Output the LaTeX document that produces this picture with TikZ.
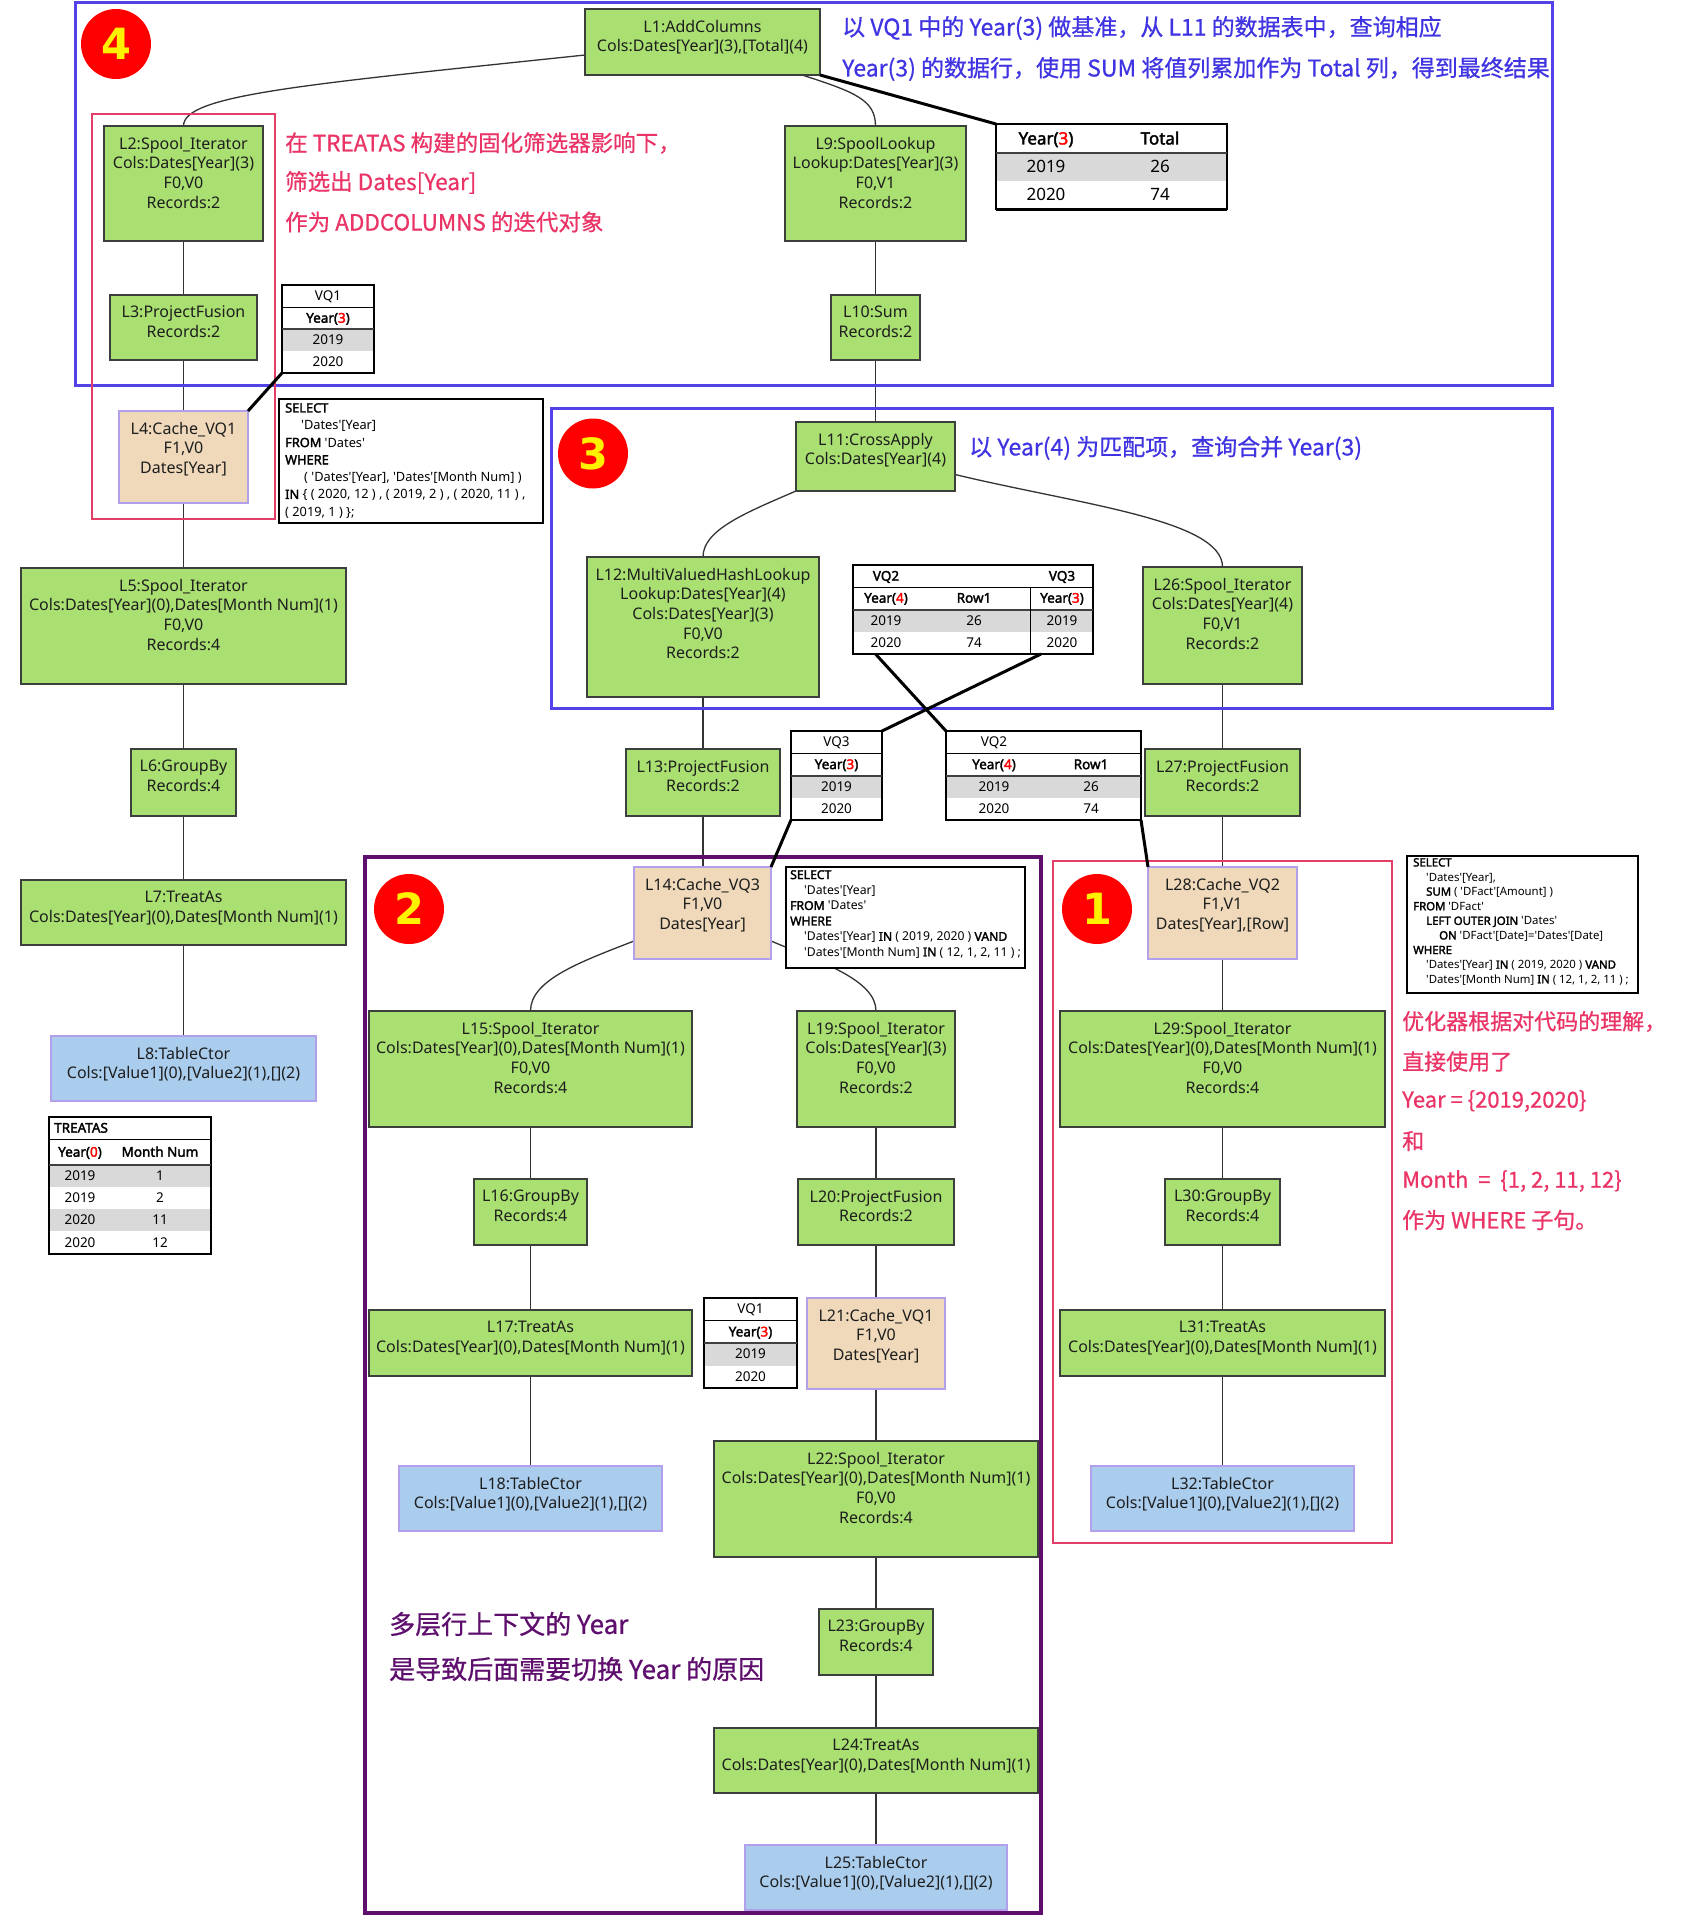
\documentclass[tikz,border=0pt]{standalone}
\usepackage{fontspec}
\newfontfamily\nf{Noto Sans}[AutoFakeBold=2.2]
\newfontfamily\cjk{Noto Sans CJK SC}[FakeBold=0.7]
\newfontfamily\dvs{DejaVu Sans}
\definecolor{gfill}{RGB}{169,224,113}
\definecolor{tfill}{RGB}{239,217,186}
\definecolor{bfill}{RGB}{170,205,238}
\definecolor{lav}{RGB}{178,160,236}
\definecolor{gline}{RGB}{60,64,60}
\definecolor{bframe}{RGB}{82,66,232}
\definecolor{btext}{RGB}{64,52,226}
\definecolor{rframe}{RGB}{226,62,104}
\definecolor{rtext}{RGB}{234,52,102}
\definecolor{pframe}{RGB}{94,14,108}
\definecolor{rowgray}{RGB}{217,217,217}
\definecolor{edgec}{RGB}{51,51,51}
\definecolor{txtc}{RGB}{30,30,30}
\pgfdeclarelayer{bottom}
\pgfdeclarelayer{edges}
\pgfdeclarelayer{top}
\pgfsetlayers{bottom,edges,main,top}
\tikzset{
  gbox/.style={draw=gline, line width=1.4pt, fill=gfill, inner sep=0pt, outer sep=0pt},
  tbox/.style={draw=lav, line width=1.8pt, fill=tfill, inner sep=0pt, outer sep=0pt},
  cbox/.style={draw=lav, line width=1.8pt, fill=bfill, inner sep=0pt, outer sep=0pt},
  lbl/.style={anchor=north, align=center, inner sep=0pt, text=txtc, font=\nf\fontsize{16}{19.6}\selectfont},
  link/.style={draw=edgec, line width=1.3pt},
  ptr/.style={draw=black, line width=3pt},
  frameB/.style={draw=bframe, line width=3pt},
  frameR/.style={draw=rframe, line width=2.6pt},
  frameP/.style={draw=pframe, line width=4.5pt},
  tabframe/.style={draw=black, line width=1.2pt, fill=white, inner sep=0pt, outer sep=0pt},
  tthin/.style={draw=black, line width=1pt},
  tsep/.style={draw=black!75, line width=2pt},
  tbot/.style={draw=black, line width=2.6pt},
  tcell/.style={inner sep=0pt, text=black, text height=9.7pt, text depth=0.3pt, font=\nf\fontsize{13.5}{16}\selectfont},
  tcellb/.style={tcell, font=\nf\bfseries\fontsize{13.5}{16}\selectfont},
  rcell/.style={inner sep=0pt, text=black, text height=12.2pt, text depth=0.3pt, font=\nf\fontsize{17}{20}\selectfont},
  rcellb/.style={rcell, font=\nf\bfseries\fontsize{17}{20}\selectfont},
  sqlbox/.style={draw=black, line width=1.1pt, fill=white, inner sep=0pt, outer sep=0pt, anchor=north west},
  sqltext/.style={anchor=north west, align=left, inner sep=0pt, text=black},
  ann/.style={anchor=west, inner sep=0pt},
  numc/.style={circle, fill=red, inner sep=0pt, minimum size=70pt, text=yellow, font=\dvs\bfseries\fontsize{43}{43}\selectfont},
}
% box with top-aligned label: name, style, x1, y1, x2, y2, text
\newcommand\opbox[7]{%
  \pgfmathsetmacro\ow{#5-#3}\pgfmathsetmacro\oh{#6-#4}%
  \pgfmathsetmacro\ox{(#3+#5)/2}\pgfmathsetmacro\oy{(#4+#6)/2}%
  \node[#2, minimum width=\ow pt, minimum height=\oh pt] (#1) at (\ox,\oy) {};%
  \node[lbl] (#1t) at ([yshift=-11pt]#1.north) {#7};%
}
% one-column year table: name, x1, y1, x2, y2, title, digit
\newcommand\yeartab[7]{%
  \pgfmathsetmacro\qw{#4-#2}\pgfmathsetmacro\qh{#5-#3}%
  \pgfmathsetmacro\qr{(#5-#3)/4}\pgfmathsetmacro\qx{(#2+#4)/2}\pgfmathsetmacro\qy{(#3+#5)/2}%
  \pgfmathsetmacro\qa{#3+\qr}\pgfmathsetmacro\qb{#3+2*\qr}\pgfmathsetmacro\qc{#3+3*\qr}%
  \node[tabframe, minimum width=\qw pt, minimum height=\qh pt] (#1) at (\qx,\qy) {};%
  \fill[rowgray] ({#2+0.6},\qb) rectangle ({#4-0.6},\qc);%
  \draw[tthin] (#2,\qa) -- (#4,\qa);%
  \draw[tsep] (#2,\qb) -- (#4,\qb);%
  \draw[tbot] (#1.south west) -- (#1.south east);%
  \node[tcell] (#1a) at (\qx,{#3+0.5*\qr}) {#6};%
  \node[tcellb] (#1b) at (\qx,{#3+1.5*\qr}) {Year(\textcolor{red}{#7})};%
  \node[tcell] (#1c) at (\qx,{#3+2.5*\qr}) {2019};%
  \node[tcell] (#1d) at (\qx,{#3+3.5*\qr}) {2020};%
}
\begin{document}
\begin{tikzpicture}[x=1pt,y=-1pt]
\begin{pgfonlayer}{bottom}
\fill[white] (0,0) rectangle (1690,1920);
\end{pgfonlayer}
\useasboundingbox (0,0) rectangle (1690,1920);

% ---------------- operator boxes ----------------
\opbox{L1}{gbox}{585}{9}{820}{75}{L1:AddColumns\\Cols:Dates[Year](3),[Total](4)}
\opbox{L2}{gbox}{104}{126}{263}{241}{L2:Spool\_Iterator\\Cols:Dates[Year](3)\\F0,V0\\Records:2}
\opbox{L3}{gbox}{110}{295}{257}{360}{L3:ProjectFusion\\Records:2}
\opbox{L4}{tbox}{119}{411}{248}{503}{L4:Cache\_VQ1\\F1,V0\\Dates[Year]}
\opbox{L5}{gbox}{21}{568}{346}{684}{L5:Spool\_Iterator\\Cols:Dates[Year](0),Dates[Month Num](1)\\F0,V0\\Records:4}
\opbox{L6}{gbox}{131}{749}{236}{816}{L6:GroupBy\\Records:4}
\opbox{L7}{gbox}{21}{880}{346}{945}{L7:TreatAs\\Cols:Dates[Year](0),Dates[Month Num](1)}
\opbox{L8}{cbox}{51}{1036}{316}{1101}{L8:TableCtor\\Cols:[Value1](0),[Value2](1),[](2)}
\opbox{L9}{gbox}{785}{126}{966}{241}{L9:SpoolLookup\\Lookup:Dates[Year](3)\\F0,V1\\Records:2}
\opbox{L10}{gbox}{831}{295}{920}{360}{L10:Sum\\Records:2}
\opbox{L11}{gbox}{796}{422}{955}{491}{L11:CrossApply\\Cols:Dates[Year](4)}
\opbox{L12}{gbox}{587}{557}{819}{697}{L12:MultiValuedHashLookup\\Lookup:Dates[Year](4)\\Cols:Dates[Year](3)\\F0,V0\\Records:2}
\opbox{L13}{gbox}{626}{749}{780}{816}{L13:ProjectFusion\\Records:2}
\opbox{L14}{tbox}{634}{867}{771}{959}{L14:Cache\_VQ3\\F1,V0\\Dates[Year]}
\opbox{L15}{gbox}{369}{1011}{692}{1127}{L15:Spool\_Iterator\\Cols:Dates[Year](0),Dates[Month Num](1)\\F0,V0\\Records:4}
\opbox{L16}{gbox}{474}{1179}{587}{1245}{L16:GroupBy\\Records:4}
\opbox{L17}{gbox}{369}{1310}{692}{1376}{L17:TreatAs\\Cols:Dates[Year](0),Dates[Month Num](1)}
\opbox{L18}{cbox}{399}{1466}{662}{1531}{L18:TableCtor\\Cols:[Value1](0),[Value2](1),[](2)}
\opbox{L19}{gbox}{797}{1011}{955}{1127}{L19:Spool\_Iterator\\Cols:Dates[Year](3)\\F0,V0\\Records:2}
\opbox{L20}{gbox}{798}{1179}{954}{1245}{L20:ProjectFusion\\Records:2}
\opbox{L21}{tbox}{807}{1298}{945}{1389}{L21:Cache\_VQ1\\F1,V0\\Dates[Year]}
\opbox{L22}{gbox}{714}{1441}{1038}{1557}{L22:Spool\_Iterator\\Cols:Dates[Year](0),Dates[Month Num](1)\\F0,V0\\Records:4}
\opbox{L23}{gbox}{819}{1609}{933}{1675}{L23:GroupBy\\Records:4}
\opbox{L24}{gbox}{714}{1728}{1038}{1793}{L24:TreatAs\\Cols:Dates[Year](0),Dates[Month Num](1)}
\opbox{L25}{cbox}{745}{1845}{1007}{1910}{L25:TableCtor\\Cols:[Value1](0),[Value2](1),[](2)}
\opbox{L26}{gbox}{1143}{567}{1302}{684}{L26:Spool\_Iterator\\Cols:Dates[Year](4)\\F0,V1\\Records:2}
\opbox{L27}{gbox}{1145}{749}{1300}{816}{L27:ProjectFusion\\Records:2}
\opbox{L28}{tbox}{1148}{867}{1297}{959}{L28:Cache\_VQ2\\F1,V1\\Dates[Year],[Row]}
\opbox{L29}{gbox}{1060}{1011}{1385}{1127}{L29:Spool\_Iterator\\Cols:Dates[Year](0),Dates[Month Num](1)\\F0,V0\\Records:4}
\opbox{L30}{gbox}{1165}{1179}{1280}{1245}{L30:GroupBy\\Records:4}
\opbox{L31}{gbox}{1060}{1310}{1385}{1376}{L31:TreatAs\\Cols:Dates[Year](0),Dates[Month Num](1)}
\opbox{L32}{cbox}{1091}{1466}{1354}{1531}{L32:TableCtor\\Cols:[Value1](0),[Value2](1),[](2)}

% ---------------- tables ----------------
\yeartab{vqA}{282}{285}{374}{373}{VQ1}{3}
\yeartab{vqB}{704}{1298}{797}{1388}{VQ1}{3}
\yeartab{sVQ3}{791}{731}{882}{820}{VQ3}{3}

% result table
\node[tabframe, line width=1.4pt, minimum width=231pt, minimum height=85pt, anchor=north west] (R) at (996,124) {};
\fill[rowgray] (996.8,153) rectangle (1226.2,181);
\draw[tsep, line width=2.6pt] (996,153) -- (1227,153);
\draw[tbot, line width=3pt] (R.south west) -- (R.south east);
\node[rcellb] (Rh1) at (1046,138.5) {Year(\textcolor{red}{3})};
\node[rcellb] (Rh2) at (1160,138.5) {Total};
\node[rcell] (Ra1) at (1046,167) {2019};
\node[rcell] (Ra2) at (1160,167) {26};
\node[rcell] (Rb1) at (1046,195) {2020};
\node[rcell] (Rb2) at (1160,195) {74};

% VQ2 / VQ3 table
\node[tabframe, minimum width=240pt, minimum height=89pt, anchor=north west] (VQ23) at (853,565) {};
\fill[rowgray] (853.6,609.5) rectangle (1092.4,632);
\draw[tthin] (853,587) -- (1093,587);
\draw[tsep] (853,609.5) -- (1093,609.5);
\draw[tthin] (1030,587) -- (1030,654);
\draw[tbot] (VQ23.south west) -- (VQ23.south east);
\node[tcellb] (VQ23a) at (886,576) {VQ2};
\node[tcellb] (VQ23b) at (1062,576) {VQ3};
\node[tcellb] (VQ23c) at (886,598) {Year(\textcolor{red}{4})};
\node[tcellb] (VQ23d) at (974,598) {Row1};
\node[tcellb] (VQ23e) at (1062,598) {Year(\textcolor{red}{3})};
\node[tcell] (VQ23f) at (886,621) {2019};
\node[tcell] (VQ23g) at (974,621) {26};
\node[tcell] (VQ23h) at (1062,621) {2019};
\node[tcell] (VQ23i) at (886,643) {2020};
\node[tcell] (VQ23j) at (974,643) {74};
\node[tcell] (VQ23k) at (1062,643) {2020};

% small VQ2 table
\node[tabframe, minimum width=195pt, minimum height=89pt, anchor=north west] (sVQ2) at (946,731) {};
\fill[rowgray] (946.6,775.5) rectangle (1140.4,797.75);
\draw[tthin] (946,753.25) -- (1141,753.25);
\draw[tsep] (946,775.5) -- (1141,775.5);
\draw[tbot] (sVQ2.south west) -- (sVQ2.south east);
\node[tcell] (sVQ2a) at (994,742) {VQ2};
\node[tcellb] (sVQ2b) at (994,764.4) {Year(\textcolor{red}{4})};
\node[tcellb] (sVQ2c) at (1091,764.4) {Row1};
\node[tcell] (sVQ2d) at (994,786.6) {2019};
\node[tcell] (sVQ2e) at (1091,786.6) {26};
\node[tcell] (sVQ2f) at (994,809) {2020};
\node[tcell] (sVQ2g) at (1091,809) {74};

% TREATAS table
\node[tabframe, minimum width=162pt, minimum height=137pt, anchor=north west] (TRT) at (49,1117) {};
\fill[rowgray] (49.6,1165) rectangle (210.4,1187);
\fill[rowgray] (49.6,1209) rectangle (210.4,1231);
\draw[tthin] (49,1139) -- (211,1139);
\draw[tsep] (49,1165) -- (211,1165);
\draw[tbot] (TRT.south west) -- (TRT.south east);
\node[tcellb, anchor=west] (TRTa) at (54,1128) {TREATAS};
\node[tcellb] (TRTb) at (80,1152) {Year(\textcolor{red}{0})};
\node[tcellb] (TRTc) at (160,1152) {Month Num};
\node[tcell] (TRT1) at (80,1176) {2019};
\node[tcell] (TRT2) at (160,1176) {1};
\node[tcell] (TRT3) at (80,1198) {2019};
\node[tcell] (TRT4) at (160,1198) {2};
\node[tcell] (TRT5) at (80,1220) {2020};
\node[tcell] (TRT6) at (160,1220) {11};
\node[tcell] (TRT7) at (80,1242.5) {2020};
\node[tcell] (TRT8) at (160,1242.5) {12};

% ---------------- SQL boxes ----------------
\node[sqlbox, minimum width=264pt, minimum height=124pt] (sqA) at (279,399) {};
\node[sqltext, font=\nf\fontsize{12.8}{17.3}\selectfont] (sqAt) at ([xshift=6pt,yshift=-4pt]sqA.north west)
 {{\bfseries SELECT}\\
  \hspace*{16pt}'Dates'[Year]\\
  {\bfseries FROM} 'Dates'\\
  {\bfseries WHERE}\\
  \hspace*{19pt}( 'Dates'[Year], 'Dates'[Month Num] )\\
  {\bfseries IN} \{ ( 2020, 12 ) , ( 2019, 2 ) , ( 2020, 11 ) ,\\
  ( 2019, 1 ) \};};

\node[sqlbox, minimum width=239pt, minimum height=101pt] (sqB) at (786,867) {};
\node[sqltext, font=\nf\fontsize{12.2}{15.45}\selectfont] (sqBt) at ([xshift=4pt,yshift=-3pt]sqB.north west)
 {{\bfseries SELECT}\\
  \hspace*{14pt}'Dates'[Year]\\
  {\bfseries FROM} 'Dates'\\
  {\bfseries WHERE}\\
  \hspace*{14pt}'Dates'[Year] {\bfseries IN} ( 2019, 2020 ) {\bfseries VAND}\\
  \hspace*{14pt}'Dates'[Month Num] {\bfseries IN} ( 12, 1, 2, 11 ) ;};

\node[sqlbox, minimum width=231pt, minimum height=137pt] (sqC) at (1407,856) {};
\node[sqltext, font=\nf\fontsize{11.4}{14.6}\selectfont] (sqCt) at ([xshift=6pt,yshift=-2pt]sqC.north west)
 {{\bfseries SELECT}\\
  \hspace*{13pt}'Dates'[Year],\\
  \hspace*{13pt}{\bfseries SUM} ( 'DFact'[Amount] )\\
  {\bfseries FROM} 'DFact'\\
  \hspace*{13pt}{\bfseries LEFT OUTER JOIN} 'Dates'\\
  \hspace*{26pt}{\bfseries ON} 'DFact'[Date]='Dates'[Date]\\
  {\bfseries WHERE}\\
  \hspace*{13pt}'Dates'[Year] {\bfseries IN} ( 2019, 2020 ) {\bfseries VAND}\\
  \hspace*{13pt}'Dates'[Month Num] {\bfseries IN} ( 12, 1, 2, 11 ) ;};

% ---------------- region frames ----------------
\draw[frameB] (75,2) rectangle (1552,385);
\draw[frameB] (551,408) rectangle (1552,708);
\draw[frameR] (92,114) rectangle (275,519);
\draw[frameP] (365,857) rectangle (1041,1913);
\draw[frameR] (1053,861) rectangle (1392,1543);

% ---------------- annotations ----------------
\node[ann, text=btext, font=\cjk\fontsize{23}{28}\selectfont] (nt1) at (842,28) {以 VQ1 中的 Year(3) 做基准，从 L11 的数据表中，查询相应};
\node[ann, text=btext, font=\cjk\fontsize{23}{28}\selectfont] (nt2) at (842,69) {Year(3) 的数据行，使用 SUM 将值列累加作为 Total 列，得到最终结果};
\node[ann, text=btext, font=\cjk\fontsize{23}{28}\selectfont] (nt3) at (969,448) {以 Year(4) 为匹配项，查询合并 Year(3)};
\node[ann, text=rtext, font=\cjk\fontsize{22.5}{28}\selectfont] (np1) at (285,143) {在 TREATAS 构建的固化筛选器影响下，};
\node[ann, text=rtext, font=\cjk\fontsize{22.5}{28}\selectfont] (np2) at (285,182.5) {筛选出 Dates[Year]};
\node[ann, text=rtext, font=\cjk\fontsize{22.5}{28}\selectfont] (np3) at (285,222) {作为 ADDCOLUMNS 的迭代对象};
\node[ann, text=pframe, font=\cjk\fontsize{26}{30}\selectfont] (nv1) at (389,1624) {多层行上下文的 Year};
\node[ann, text=pframe, font=\cjk\fontsize{26}{30}\selectfont] (nv2) at (389,1669) {是导致后面需要切换 Year 的原因};
\node[ann, text=rtext, font=\cjk\fontsize{22}{28}\selectfont] (nr1) at (1402,1021.5) {优化器根据对代码的理解，};
\node[ann, text=rtext, font=\cjk\fontsize{22}{28}\selectfont] (nr2) at (1402,1061.5) {直接使用了};
\node[ann, text=rtext, font=\cjk\fontsize{22}{28}\selectfont] (nr3) at (1402,1101) {Year = \{2019,2020\}};
\node[ann, text=rtext, font=\cjk\fontsize{22}{28}\selectfont] (nr4) at (1402,1141) {和};
\node[ann, text=rtext, font=\cjk\fontsize{22}{28}\selectfont] (nr5) at (1402,1181) {Month \ = \ \{1, 2, 11, 12\}};
\node[ann, text=rtext, font=\cjk\fontsize{22}{28}\selectfont] (nr6) at (1402,1220) {作为 WHERE 子句。};

% ---------------- numbered circles ----------------
\node[numc] (c4) at (116,44) {4};
\node[numc] (c3) at (593,453.5) {3};
\node[numc] (c2) at (409,909) {2};
\node[numc] (c1) at (1097,909) {1};

% ---------------- connectors ----------------
\begin{pgfonlayer}{edges}
\draw[link] ([yshift=-13pt]L1.west) .. controls +(-285,30) and +(0,-31) .. (L2.north);
\draw[link] ([xshift=-18pt]L1.south east) .. controls +(53,17) and +(0,-26) .. (L9.north);
\draw[link] (L11.south west) .. controls +(-51,22) and +(0,-27) .. (L12.north);
\draw[link] ([yshift=-18pt]L11.east) .. controls +(125,30) and +(0,-47) .. (L26.north);
\draw[link] ([yshift=-28pt]L14.west) .. controls +(-54,21) and +(0,-31) .. (L15.north);
\draw[link] ([yshift=-28pt]L14.east) .. controls +(50,21) and +(0,-31) .. (L19.north);
\foreach \a/\b in {L2/L3,L3/L4,L4/L5,L5/L6,L6/L7,L7/L8,L9/L10,L10/L11,L12/L13,L13/L14,L26/L27,L27/L28,L15/L16,L16/L17,L17/L18,L19/L20,L20/L21,L21/L22,L22/L23,L23/L24,L24/L25,L28/L29,L29/L30,L30/L31,L31/L32}
  \draw[link] (\a.south) -- (\a.south |- \b.north);
\end{pgfonlayer}
\begin{pgfonlayer}{top}
\draw[ptr] (L1.south east) -- (R.north west);
\draw[ptr] (L4.north east) -- (vqA.south west);
\draw[ptr] ([xshift=22.5pt]VQ23.south west) -- (sVQ2.north west);
\draw[ptr] ([xshift=-52pt]VQ23.south east) -- (sVQ3.north east);
\draw[ptr] (sVQ3.south west) -- (L14.north east);
\draw[ptr] (sVQ2.south east) -- (L28.north west);
\end{pgfonlayer}
\end{tikzpicture}
\end{document}
